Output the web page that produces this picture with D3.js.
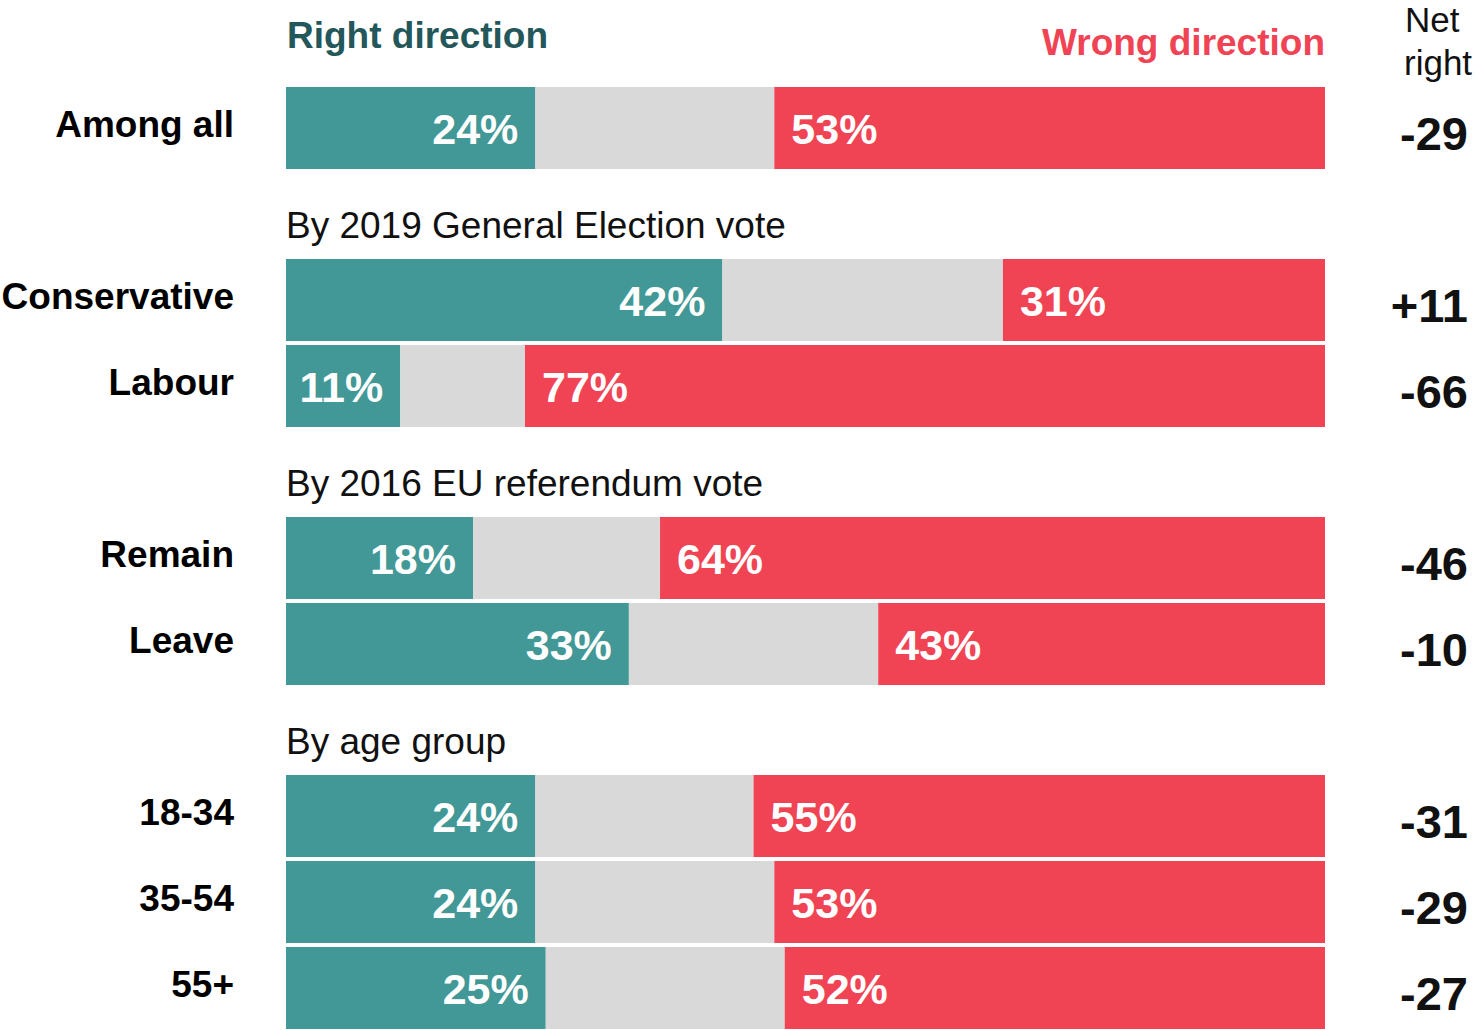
<!DOCTYPE html>
<html>
<head>
<meta charset="utf-8">
<script src="https://cdn.jsdelivr.net/npm/d3@7"></script>
<style>
  body { margin: 0; background: #fff; }
  text { font-family: "Liberation Sans", Arial, sans-serif; }
</style>
</head>
<body>
<svg width="1478" height="1030"></svg>
<script>
// rows of the chart, in slot order (slot = vertical position index)
var categories = ['Among all', 'Conservative', 'Labour', 'Remain', 'Leave', '18-34', '35-54', '55+'];
var slots = [0, 2, 3, 5, 6, 8, 9, 10];
var rightDir = [24, 42, 11, 18, 33, 24, 24, 25];
var wrongDir = [53, 31, 77, 64, 43, 55, 53, 52];
var netRight = ['-29', '+11', '-66', '-46', '-10', '-31', '-29', '-27'];

var sections = ['By 2019 General Election vote', 'By 2016 EU referendum vote', 'By age group'];
var sectionSlots = [1, 4, 7];

var teal = '#429896', grey = '#d9d9d9', red = '#f04354';

var svg = d3.select('svg');
var x = d3.scaleLinear().domain([0, 100]).range([286, 1325]);
var y = d3.scaleLinear().domain([0, 11]).range([87, 87 + 86 * 11]);
var barH = 82;

var rows = categories.map(function(c, i) {
  return {name: c, slot: slots[i], right: rightDir[i], wrong: wrongDir[i], net: netRight[i]};
});

var g = svg.selectAll('g.row').data(rows).enter().append('g').attr('class', 'row');

g.append('rect')
  .attr('x', x(0))
  .attr('y', function(d) { return y(d.slot); })
  .attr('width', function(d) { return x(d.right) - x(0); })
  .attr('height', barH)
  .style('fill', teal);

g.append('rect')
  .attr('x', function(d) { return x(d.right); })
  .attr('y', function(d) { return y(d.slot); })
  .attr('width', function(d) { return x(100 - d.wrong) - x(d.right); })
  .attr('height', barH)
  .style('fill', grey);

g.append('rect')
  .attr('x', function(d) { return x(100 - d.wrong); })
  .attr('y', function(d) { return y(d.slot); })
  .attr('width', function(d) { return x(100) - x(100 - d.wrong); })
  .attr('height', barH)
  .style('fill', red);

// value labels
g.append('text')
  .attr('x', function(d) { return x(d.right) - 17; })
  .attr('y', function(d) { return y(d.slot) + 57; })
  .attr('text-anchor', 'end')
  .style('font-size', '43px').style('font-weight', 'bold').style('fill', '#fff')
  .text(function(d) { return d.right + '%'; });

g.append('text')
  .attr('x', function(d) { return x(100 - d.wrong) + 17; })
  .attr('y', function(d) { return y(d.slot) + 57; })
  .style('font-size', '43px').style('font-weight', 'bold').style('fill', '#fff')
  .text(function(d) { return d.wrong + '%'; });

// category names
g.append('text')
  .attr('x', 234)
  .attr('y', function(d) { return y(d.slot) + 50; })
  .attr('text-anchor', 'end')
  .style('font-size', '37px').style('font-weight', 'bold').style('fill', '#000')
  .text(function(d) { return d.name; });

// net right
g.append('text')
  .attr('x', 1468)
  .attr('y', function(d) { return y(d.slot) + 63; })
  .attr('text-anchor', 'end')
  .style('font-size', '47px').style('font-weight', 'bold').style('fill', '#111')
  .text(function(d) { return d.net; });

// section headings
svg.selectAll('text.section').data(sections).enter().append('text')
  .attr('class', 'section')
  .attr('x', 286)
  .attr('y', function(d, i) { return y(sectionSlots[i]) + 65; })
  .style('font-size', '37px').style('fill', '#111')
  .text(function(d) { return d; });

// headers
svg.append('text').attr('x', 287).attr('y', 48)
  .style('font-size', '37px').style('font-weight', 'bold').style('fill', '#23575a')
  .text('Right direction');
svg.append('text').attr('x', 1325).attr('y', 55).attr('text-anchor', 'end')
  .style('font-size', '37px').style('font-weight', 'bold').style('fill', red)
  .text('Wrong direction');
svg.append('text').attr('x', 1405).attr('y', 32)
  .style('font-size', '35px').style('fill', '#111').text('Net');
svg.append('text').attr('x', 1404).attr('y', 75)
  .style('font-size', '35px').style('fill', '#111').text('right');
</script>
</body>
</html>
